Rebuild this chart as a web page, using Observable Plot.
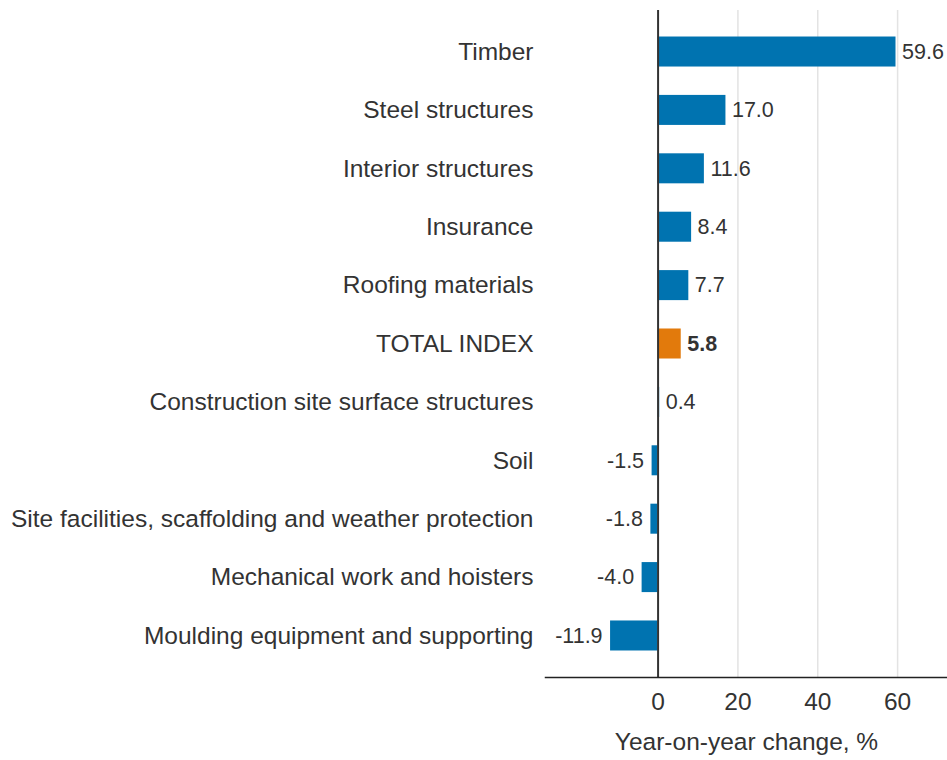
<!DOCTYPE html>
<html>
<head>
<meta charset="utf-8">
<script src="https://cdn.jsdelivr.net/npm/d3@7"></script>
<script src="https://cdn.jsdelivr.net/npm/@observablehq/plot@0.6"></script>
<style>
  html, body { margin: 0; padding: 0; background: #fff; }
  #chart svg { display: block; }
</style>
</head>
<body>
<div id="chart"></div>
<script>
const categories = [
  "Timber",
  "Steel structures",
  "Interior structures",
  "Insurance",
  "Roofing materials",
  "TOTAL INDEX",
  "Construction site surface structures",
  "Soil",
  "Site facilities, scaffolding and weather protection",
  "Mechanical work and hoisters",
  "Moulding equipment and supporting"
];
const values = [59.6, 17.0, 11.6, 8.4, 7.7, 5.8, 0.4, -1.5, -1.8, -4.0, -11.9];
const highlight = "TOTAL INDEX";
const xTicks = [0, 20, 40, 60];
const gridTicks = [20, 40, 60];
const xLabel = "Year-on-year change, %";

const data = categories.map((c, i) => ({category: c, value: values[i], total: c === highlight}));
const pos = data.filter(d => d.value >= 0 && !d.total);
const neg = data.filter(d => d.value < 0);
const tot = data.filter(d => d.total);

const font = "'Liberation Sans', Arial, sans-serif";
const fmt = d => d.value.toFixed(1);

const chart = Plot.plot({
  width: 947,
  height: 760,
  marginTop: 10,
  marginBottom: 83,
  marginLeft: 545,
  marginRight: 0,
  style: {fontFamily: font, fontSize: "24.5px", color: "#333", background: "#fff"},
  x: {domain: [-28.2, 72.5]},
  y: {domain: categories, paddingInner: 0.486, paddingOuter: 0.454, round: false},
  marks: [
    Plot.gridX(gridTicks, {stroke: "#e3e3e3", strokeOpacity: 1, strokeWidth: 1.5}),
    Plot.barX(data, {
      x: "value", y: "category",
      fill: d => d.total ? "#e27a0c" : "#0073b0"
    }),
    Plot.ruleX([0], {stroke: "#333", strokeWidth: 2}),
    Plot.frame({anchor: "bottom", stroke: "#222", strokeWidth: 1.5}),
    Plot.text(pos, {x: "value", y: "category", text: fmt, textAnchor: "start", dx: 6, fontSize: 21.5, fill: "#333"}),
    Plot.text(neg, {x: "value", y: "category", text: fmt, textAnchor: "end", dx: -8, fontSize: 21.5, fill: "#333"}),
    Plot.text(tot, {x: "value", y: "category", text: fmt, textAnchor: "start", dx: 6, fontSize: 21.5, fontWeight: "bold", fill: "#333"}),
    Plot.axisY({tickSize: 0, tickPadding: 12, label: null, fontSize: 24.5, fill: "#333"}),
    Plot.axisX(xTicks, {
      tickSize: 0, tickPadding: 15, fontSize: 24.5, fill: "#333",
      label: xLabel, labelAnchor: "center", labelArrow: "none", labelOffset: 72
    })
  ]
});

document.getElementById("chart").appendChild(chart);
</script>
</body>
</html>
